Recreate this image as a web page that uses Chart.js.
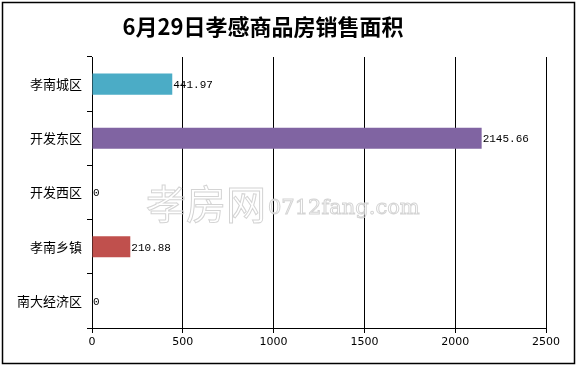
<!DOCTYPE html>
<html>
<head>
<meta charset="utf-8">
<script src="https://cdn.jsdelivr.net/npm/chart.js@4"></script>
<style>
  html, body { margin: 0; padding: 0; background: #fff; }
  canvas { display: block; }
</style>
</head>
<body>
<canvas id="chart-area" width="576" height="366"></canvas>
<script>
(function () {
  'use strict';

  var titleText = '6月29日孝感商品房销售面积';
  var categories = ['孝南城区', '开发东区', '开发西区', '孝南乡镇', '南大经济区'];
  var areaValues = [441.97, 2145.66, 0, 210.88, 0];
  var valueLabels = ['441.97', '2145.66', '0', '210.88', '0'];
  var barColors = ['#4BACC6', '#8064A2', '#9BBB59', '#C0504D', '#F79646'];
  var xTicks = [0, 500, 1000, 1500, 2000, 2500];

  var sansCJK = '"Noto Sans CJK SC", "DejaVu Sans", sans-serif';

  // frame, title and the faint site watermark
  var decorPlugin = {
    id: 'decor',
    beforeDraw: function (chart) {
      var ctx = chart.ctx;
      ctx.save();
      ctx.fillStyle = '#fff';
      ctx.fillRect(0, 0, chart.width, chart.height);
      ctx.strokeStyle = '#000';
      ctx.lineWidth = 1.5;
      ctx.strokeRect(2.5, 2.5, 572, 361);
      ctx.fillStyle = '#000';
      ctx.font = 'bold 22px ' + sansCJK;
      ctx.textAlign = 'center';
      ctx.textBaseline = 'middle';
      ctx.fillText(titleText, 263, 27);
      ctx.restore();
    },
    beforeDatasetsDraw: function (chart) {
      var ctx = chart.ctx;
      ctx.save();
      ctx.strokeStyle = '#d4d4d4';
      ctx.lineWidth = 1;
      ctx.textBaseline = 'alphabetic';
      ctx.textAlign = 'left';
      ctx.font = '40px ' + sansCJK;
      ctx.strokeText('孝房网', 146, 219);
      ctx.font = '21px "DejaVu Serif", serif';
      ctx.strokeText('0712fang.com', 268, 214);
      ctx.restore();
    },
    afterDatasetsDraw: function (chart) {
      var ctx = chart.ctx;
      var meta = chart.getDatasetMeta(0);
      ctx.save();
      ctx.fillStyle = '#000';
      ctx.font = '11px "Liberation Mono", "DejaVu Sans Mono", monospace';
      ctx.textAlign = 'left';
      ctx.textBaseline = 'middle';
      meta.data.forEach(function (bar, i) {
        ctx.fillText(valueLabels[i], bar.x + 1, bar.y + 1);
      });
      ctx.restore();
    }
  };

  new Chart(document.getElementById('chart-area'), {
    type: 'bar',
    data: {
      labels: categories,
      datasets: [{
        data: areaValues,
        backgroundColor: barColors,
        borderWidth: 0,
        barPercentage: 0.39,
        categoryPercentage: 1
      }]
    },
    plugins: [decorPlugin],
    options: {
      indexAxis: 'y',
      responsive: false,
      animation: false,
      devicePixelRatio: 1,
      layout: { padding: { top: 57, right: 30, left: 0, bottom: 0 } },
      plugins: {
        legend: { display: false },
        tooltip: { enabled: false },
        title: { display: false }
      },
      scales: {
        x: {
          min: 0,
          max: 2500,
          afterBuildTicks: function (scale) {
            scale.ticks = xTicks.map(function (v) { return { value: v }; });
          },
          afterFit: function (scale) { scale.height = 38; },
          grid: { color: '#000', lineWidth: 1, tickLength: 5 },
          border: { color: '#000', width: 1 },
          ticks: {
            color: '#000',
            padding: 3,
            maxRotation: 0,
            autoSkip: false,
            callback: function (v) { return String(v); },
            font: { family: '"DejaVu Sans", sans-serif', size: 11 }
          }
        },
        y: {
          afterFit: function (scale) { scale.width = 92; },
          grid: { drawOnChartArea: false, color: '#000', tickLength: 5, offset: true },
          border: { color: '#000', width: 1 },
          ticks: {
            color: '#000',
            padding: 5,
            autoSkip: false,
            font: { family: sansCJK, size: 13 }
          }
        }
      }
    }
  });
})();
</script>
</body>
</html>
